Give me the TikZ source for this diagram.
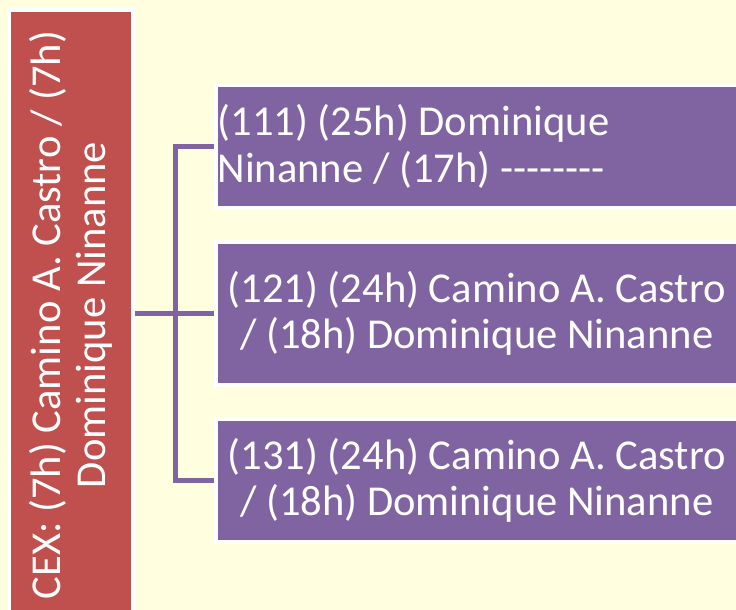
\documentclass[tikz,border=0pt]{standalone}
\usepackage{fontspec}
\setmainfont{Carlito}
\definecolor{paleyellow}{HTML}{FFFFE0}
\definecolor{brickred}{HTML}{C0504D}
\definecolor{lavender}{HTML}{8064A2}
\begin{document}
\begin{tikzpicture}[x=1pt, y=-1pt,
        tile/.style={draw=white, line width=4pt, fill=lavender, text=white, minimum width=522.5pt, inner sep=2pt, font=\fontsize{42.6}{46.5}\selectfont\frenchspacing},
        link/.style={draw=lavender, line width=5pt}]
        \useasboundingbox (0, 0) rectangle (736, 610);
        \fill [paleyellow] (0, 0) rectangle (736, 610);
        \node [draw=white, line width=4pt, fill=brickred, text=white, rotate=90, minimum width=610pt, minimum height=124pt, align=center, font=\fontsize{42.6}{45}\selectfont\frenchspacing] (cex) at (71, 315) {CEX: (7h) Camino A. Castro / (7h)\\Dominique Ninanne};
        \node [tile, minimum height=123pt, text width=518.5pt, align=flush left] (b111) at (476.75, 146.5) {(111) (25h) Dominique\\Ninanne / (17h) -{}-{}-{}-{}-{}-{}-{}-};
        \node [tile, minimum height=143pt, align=center] (b121) at (476.75, 313.5) {(121) (24h) Camino A. Castro\\/ (18h) Dominique Ninanne};
        \node [tile, minimum height=123pt, align=center] (b131) at (476.75, 480.5) {(131) (24h) Camino A. Castro\\/ (18h) Dominique Ninanne};
        \draw [link] (b121.west -| cex.south) -- (b121.west);
        \draw [link] (b111.west) -- ++(-38, 0) |- (b131.west);
\end{tikzpicture}
\end{document}
